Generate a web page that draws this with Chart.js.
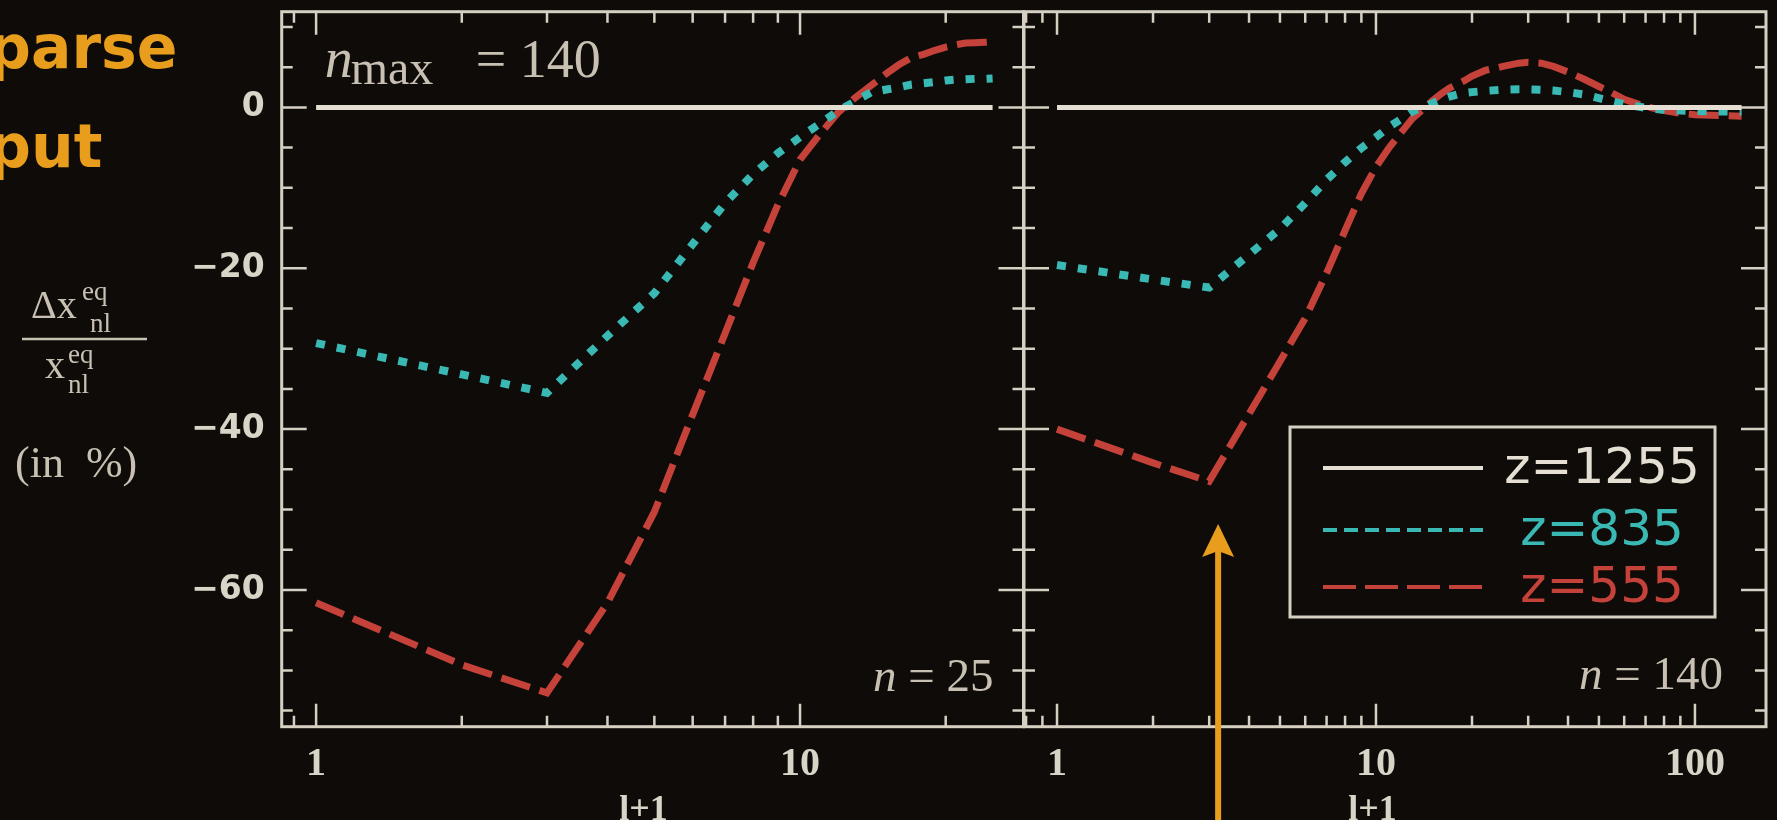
<!DOCTYPE html>
<html>
<head>
<meta charset="utf-8">
<script src="https://cdn.jsdelivr.net/npm/chart.js@4.4.1/dist/chart.umd.min.js"></script>
<style>
    html, body { margin: 0; padding: 0; background: #0e0b08; overflow: hidden; }
    body { width: 1777px; height: 820px; position: relative; }
    canvas { position: absolute; top: 0; }
    #left { left: 0; }
    #right { left: 1000px; }
</style>
</head>
<body>
<canvas id="left" width="1040" height="830"></canvas>
<canvas id="right" width="777" height="830"></canvas>
<script>
// l+1 and relative change of the non-linear ionisation fraction (in %)
// n = 25 run
var lLeft = [1, 2, 3, 4, 5, 6, 7, 8, 9, 10, 11, 12, 13, 14, 15, 16, 17, 18, 19, 20, 21, 22, 23, 24, 25];
var z835Left = [-29.3, -33.2, -35.5, -28.4, -23.1, -17.0, -11.9, -8.3, -5.7, -3.7, -2.0, -0.4, 0.75,
    1.85, 2.2, 2.5, 2.85, 3.0, 3.15, 3.35, 3.45, 3.5, 3.55, 3.55, 3.6];
var z555Left = [-61.6, -69.3, -72.8, -61.6, -50.3, -38.2, -28.1, -19.3, -12.1, -6.5, -3.3, -0.6, 1.2,
    2.7, 4.1, 5.3, 6.2, 6.6, 7.1, 7.5, 7.8, 8.0, 8.05, 8.1, 8.15];
var lRefLeft = [1, 25];
var z1255Left = [0, 0];

// n = 140 run
var lRight = [1, 2, 3, 4, 5, 6, 7, 8, 9, 10, 11, 12, 13, 14, 15, 16, 17, 18, 19, 20, 22, 25, 28, 30,
    33, 36, 40, 45, 50, 55, 60, 70, 80, 90, 100, 120, 140];
var z835Right = [-19.6, -21.4, -22.4, -18.3, -15.1, -11.9, -9.0, -6.8, -5.05, -3.7, -2.4, -1.45, -0.5,
    0.0, 0.5, 1.0, 1.35, 1.6, 1.8, 1.9, 2.05, 2.2, 2.25, 2.25, 2.2, 2.1, 1.9, 1.6, 1.15, 0.75, 0.4,
    -0.05, -0.3, -0.4, -0.45, -0.5, -0.5];
var z555Right = [-40.0, -44.2, -46.5, -38.1, -31.6, -26.2, -20.6, -15.3, -10.7, -7.4, -5.0, -3.1, -1.4,
    -0.3, 0.8, 1.7, 2.4, 2.9, 3.35, 3.9, 4.6, 5.1, 5.5, 5.6, 5.5, 5.1, 4.4, 3.5, 2.6, 1.8, 1.0,
    0.1, -0.4, -0.75, -0.9, -1.0, -1.1];
var lRefRight = [1, 140];
var z1255Right = [0, 0];

var yTicks = [-60, -40, -20, 0];
var xTicksLeft = [1, 10];
var xTicksRight = [1, 10, 100];
var arrowAt = 3.2;

var yMin = -77, yMax = 11.9;
var white = '#e4dfd2', cyan = '#3ab8b4', red = '#c4423a', orange = '#e99d1c';
var axisColor = '#d6d0c2', textColor = '#d9d4c8', noteColor = '#c8c1b3';
var serif = "'Liberation Serif', 'DejaVu Serif', serif";
var sans = "'DejaVu Sans', sans-serif";

function toPoints(xs, ys) {
    return xs.map(function (x, i) { return {x: x, y: ys[i]}; });
}

function series(xs, xr, zr, cz835, cz555) {
    return [
        {label: 'z=1255', data: toPoints(xr, zr), borderColor: white, borderWidth: 5,
            pointRadius: 0, legendDash: []},
        {label: 'z=835', data: toPoints(xs, cz835), borderColor: cyan, borderWidth: 8,
            borderDash: [9, 12], borderCapStyle: 'butt', pointRadius: 0, legendDash: [14, 7]},
        {label: 'z=555', data: toPoints(xs, cz555), borderColor: red, borderWidth: 7,
            borderDash: [30, 10], borderCapStyle: 'butt', pointRadius: 0, legendDash: [33, 9]}
    ];
}

// the title sits a little left of the axis centre, hence the padded text
function xAxis(min, max, labels, title) {
    return {
        type: 'logarithmic',
        min: min,
        max: max,
        grid: {display: false},
        border: {display: false},
        afterBuildTicks: function (scale) {
            scale.ticks = labels.map(function (v) { return {value: v}; });
        },
        afterFit: function (scale) {
            scale.height = 830 - 726.7;
            scale.paddingLeft = 0;
            scale.paddingRight = 0;
        },
        ticks: {
            color: textColor, padding: 6, autoSkip: false, maxRotation: 0,
            font: {family: serif, size: 40, weight: 'bold'},
            callback: function (v) { return String(v); }
        },
        title: {
            display: true, text: title, color: textColor,
            font: {family: serif, size: 36, weight: 'bold', lineHeight: 1},
            padding: {top: 0, bottom: 1}
        }
    };
}

// box round the plot with inward ticks on all four sides
var frame = {
    id: 'frame',
    afterDraw: function (chart) {
        var ctx = chart.ctx, a = chart.chartArea;
        var xs = chart.scales.x, ys = chart.scales.y;
        ctx.save();
        ctx.strokeStyle = axisColor;
        ctx.lineWidth = 3;
        ctx.strokeRect(a.left, a.top, a.right - a.left, a.bottom - a.top);
        ctx.lineWidth = 2.5;
        ctx.beginPath();
        for (var v = Math.ceil(ys.min / 5) * 5; v <= ys.max; v += 5) {
            var py = ys.getPixelForValue(v);
            var len = v % 20 === 0 ? 25 : 11;
            ctx.moveTo(a.left, py); ctx.lineTo(a.left + len, py);
            ctx.moveTo(a.right, py); ctx.lineTo(a.right - len, py);
        }
        [0.1, 1, 10, 100].forEach(function (d) {
            for (var k = 1; k < 10; k++) {
                var xv = k * d;
                if (xv < xs.min || xv > xs.max) continue;
                var px = xs.getPixelForValue(xv);
                var l2 = (k === 1 && d >= 1) ? 23 : 11;
                ctx.moveTo(px, a.bottom); ctx.lineTo(px, a.bottom - l2);
                ctx.moveTo(px, a.top); ctx.lineTo(px, a.top + l2);
            }
        });
        ctx.stroke();
        ctx.restore();
    }
};

// "n = .." label in the lower right corner
function drawN(ctx, right, base, num) {
    ctx.font = "italic 47px " + serif;
    var wn = ctx.measureText('n').width;
    ctx.font = "47px " + serif;
    var rest = ' = ' + num;
    var wr = ctx.measureText(rest).width;
    ctx.fillStyle = noteColor;
    ctx.textAlign = 'left';
    ctx.textBaseline = 'alphabetic';
    ctx.fillText(rest, right - wr, base);
    ctx.font = "italic 47px " + serif;
    ctx.fillText('n', right - wr - wn, base);
}

var leftNotes = {
    id: 'leftNotes',
    afterDraw: function (chart) {
        var ctx = chart.ctx, a = chart.chartArea;
        ctx.save();
        ctx.textBaseline = 'alphabetic';
        ctx.textAlign = 'left';

        // slide heading, cut by the left edge
        ctx.fillStyle = orange;
        ctx.font = "bold 60px " + sans;
        ctx.fillText('parse', -12, 68);
        ctx.fillText('put', -12, 167);

        // y axis title as a fraction
        ctx.fillStyle = noteColor;
        ctx.font = "40px " + serif;
        ctx.fillText('\u0394x', 31, 318);
        ctx.fillText('x', 45, 378);
        ctx.font = "27px " + serif;
        ctx.fillText('eq', 82, 300);
        ctx.fillText('nl', 90, 332);
        ctx.fillText('eq', 68, 363);
        ctx.fillText('nl', 68, 393);
        ctx.strokeStyle = noteColor;
        ctx.lineWidth = 2.5;
        ctx.beginPath();
        ctx.moveTo(22, 339); ctx.lineTo(147, 339);
        ctx.stroke();
        ctx.font = "44px " + serif;
        ctx.fillText('(in  %)', 15, 477);

        // n_max label
        ctx.font = "italic 56px " + serif;
        ctx.fillText('n', a.left + 43, 77);
        ctx.font = "48px " + serif;
        ctx.fillText('max', a.left + 69, 84);
        ctx.font = "54px " + serif;
        ctx.fillText('= 140', a.left + 194, 77);

        drawN(ctx, a.right - 30, 691, '25');
        ctx.restore();
    }
};

var rightNotes = {
    id: 'rightNotes',
    afterDatasetsDraw: function (chart) {
        var ctx = chart.ctx, a = chart.chartArea;
        var bx = a.left + 266, by = 427, bw = 425, bh = 190;
        var rows = [41, 103, 160];
        ctx.save();
        ctx.fillStyle = '#0e0b08';
        ctx.fillRect(bx, by, bw, bh);
        ctx.strokeStyle = axisColor;
        ctx.lineWidth = 3;
        ctx.strokeRect(bx, by, bw, bh);
        ctx.font = "50px 'DejaVu Sans', sans-serif";
        ctx.textAlign = 'center';
        ctx.textBaseline = 'middle';
        chart.data.datasets.forEach(function (ds, i) {
            var y = by + rows[i];
            ctx.strokeStyle = ds.borderColor;
            ctx.lineWidth = 4;
            ctx.setLineDash(ds.legendDash);
            ctx.beginPath();
            ctx.moveTo(bx + 33, y); ctx.lineTo(bx + 193, y);
            ctx.stroke();
            ctx.fillStyle = ds.borderColor;
            ctx.fillText(ds.label, bx + 312, y + 2);
        });
        ctx.setLineDash([]);
        drawN(ctx, a.right - 43, 689, '140');
        ctx.restore();
    },
    afterDraw: function (chart) {
        // arrow pointing at the l+1 = 3 dip
        var ctx = chart.ctx;
        var px = chart.scales.x.getPixelForValue(arrowAt);
        var tip = 524;
        ctx.save();
        ctx.strokeStyle = orange;
        ctx.fillStyle = orange;
        ctx.lineWidth = 6;
        ctx.beginPath();
        ctx.moveTo(px, 830); ctx.lineTo(px, tip + 25);
        ctx.stroke();
        ctx.beginPath();
        ctx.moveTo(px, tip);
        ctx.lineTo(px - 16, tip + 33);
        ctx.lineTo(px, tip + 27);
        ctx.lineTo(px + 16, tip + 33);
        ctx.closePath();
        ctx.fill();
        ctx.restore();
    }
};

Chart.defaults.animation = false;

new Chart(document.getElementById('left'), {
    type: 'line',
    data: {datasets: series(lLeft, lRefLeft, z1255Left, z835Left, z555Left)},
    options: {
        responsive: false,
        layout: {padding: {left: 0, top: 11.7, right: 16.5, bottom: 0}},
        plugins: {legend: {display: false}, tooltip: {enabled: false}},
        scales: {
            x: xAxis(0.849, 28.96, xTicksLeft, 'l+1  '),
            y: {
                min: yMin,
                max: yMax,
                grid: {display: false},
                border: {display: false},
                afterBuildTicks: function (scale) {
                    scale.ticks = yTicks.map(function (v) { return {value: v}; });
                },
                afterFit: function (scale) {
                    scale.width = 281.7;
                    scale.paddingTop = 0;
                    scale.paddingBottom = 0;
                },
                ticks: {
                    color: textColor, padding: 9,
                    font: {family: sans, weight: 'bold', size: 33},
                    callback: function (v) { return v === 0 ? '0' : '\u2212' + Math.abs(v); }
                }
            }
        }
    },
    plugins: [frame, leftNotes]
});

new Chart(document.getElementById('right'), {
    type: 'line',
    data: {datasets: series(lRight, lRefRight, z1255Right, z835Right, z555Right)},
    options: {
        responsive: false,
        layout: {padding: {left: 24, top: 11.7, right: 11, bottom: 0}},
        plugins: {legend: {display: false}, tooltip: {enabled: false}},
        scales: {
            x: xAxis(0.788, 167, xTicksRight, 'l+1     '),
            y: {display: false, min: yMin, max: yMax}
        }
    },
    plugins: [frame, rightNotes]
});
</script>
</body>
</html>
